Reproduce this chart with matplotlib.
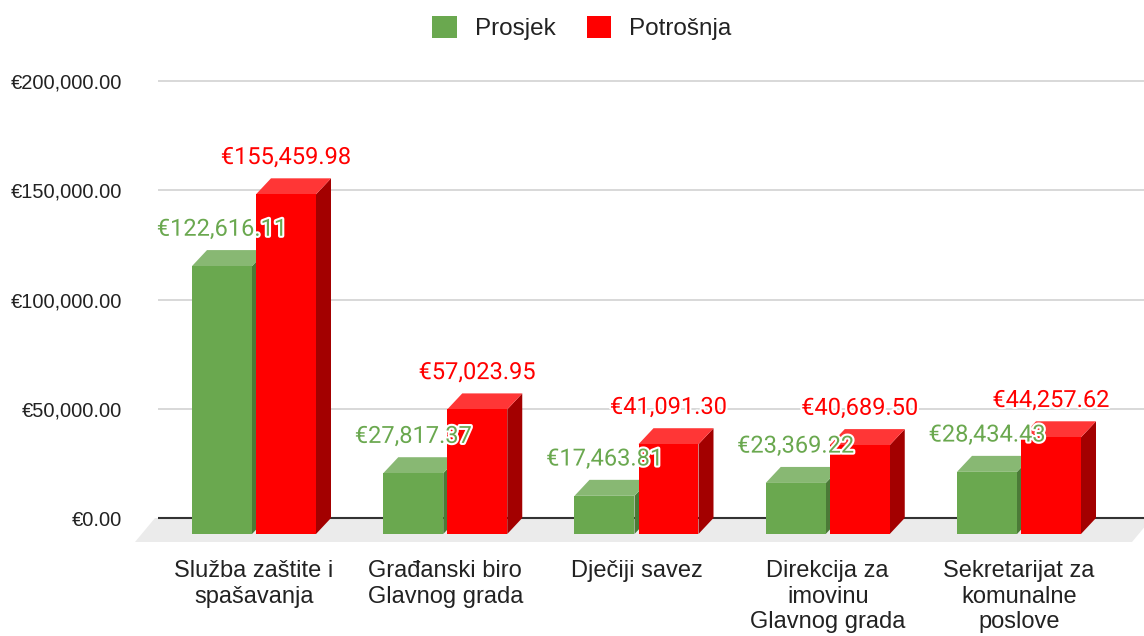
import matplotlib
matplotlib.use("Agg")
import matplotlib.pyplot as plt
from matplotlib.patches import Polygon, Patch
import matplotlib.patheffects as pe

categories = ["Služba zaštite i\nspašavanja", "Građanski biro\nGlavnog grada",
              "Dječiji savez", "Direkcija za\nimovinu\nGlavnog grada",
              "Sekretarijat za\nkomunalne\nposlove"]
prosjek = [122616.11, 27817.37, 17463.81, 23369.22, 28434.43]
potrosnja = [155459.98, 57023.95, 41091.30, 40689.50, 44257.62]
series_names = ["Prosjek", "Potrošnja"]
y_ticks = [0, 50000, 100000, 150000, 200000]

# colours: front, top, side
green = ("#6aa84f", "#88b873", "#4b7a37")
red = ("#ff0000", "#ff3636", "#a30000")

W, H = 1144, 636
fig = plt.figure(figsize=(W / 100, H / 100), dpi=100)

# pixel layout of the plot area
px_left, px_right = 158, 1144
px_top, px_bottom = 60, 545
px_zero, px_max = 518, 81
px_per_cat = 191.25
px_first = 254

yscale = (px_zero - px_max) / 200000.0  # px per unit
ax = fig.add_axes([px_left / W, (H - px_bottom) / H,
                   (px_right - px_left) / W, (px_bottom - px_top) / H])
ax.set_ylim(-(px_bottom - px_zero) / yscale, 200000 + (px_max - px_top) / yscale)
ax.set_xlim((px_left - px_first) / px_per_cat, (px_right - px_first) / px_per_cat)

ddx = 15 / px_per_cat
ddy = 16 / yscale
width = 60 / px_per_cat
offset = 32 / px_per_cat

for s in ax.spines.values():
    s.set_visible(False)

# gridlines
for t in y_ticks[1:]:
    ax.axhline(t, color="#d6d6d6", lw=1.3, zorder=0)

# floor
fdx, fdy = 20 / px_per_cat, 24 / yscale
fl, fr = (155 - px_first) / px_per_cat, (1152 - px_first) / px_per_cat
ax.add_patch(Polygon([(fl, 0), (fr, 0), (fr - fdx, -fdy), (fl - fdx, -fdy)],
                     closed=True, facecolor="#ebebeb", edgecolor="none", zorder=1,
                     clip_on=False))
ax.axhline(0, color="#333333", lw=1.5, zorder=1.5)


def bar3d(xc, v, cols):
    x0 = xc - width / 2
    x1 = x0 + width
    ax.add_patch(Polygon([(x1, -ddy), (x1 + ddx, 0), (x1 + ddx, v), (x1, v - ddy)],
                         closed=True, facecolor=cols[2], edgecolor="none", zorder=2))
    ax.add_patch(Polygon([(x0, v - ddy), (x1, v - ddy), (x1 + ddx, v), (x0 + ddx, v)],
                         closed=True, facecolor=cols[1], edgecolor="none", zorder=2))
    ax.add_patch(Polygon([(x0, -ddy), (x1, -ddy), (x1, v - ddy), (x0, v - ddy)],
                         closed=True, facecolor=cols[0], edgecolor="none", zorder=2))


halo = [pe.withStroke(linewidth=3, foreground="white")]
for i in range(len(categories)):
    bar3d(i - offset, prosjek[i], green)
    bar3d(i + offset, potrosnja[i], red)

for i in range(len(categories)):
    for xc, v, c in [(i - offset, prosjek[i], green[0]), (i + offset, potrosnja[i], red[0])]:
        ax.annotate("€{:,.2f}".format(v), xy=(xc, v), xytext=(0, 15),
                    textcoords="offset points", ha="center", va="center",
                    fontsize=17, family="Roboto", color=c, path_effects=halo,
                    zorder=5, annotation_clip=False)

ax.set_yticks(y_ticks)
ax.set_yticklabels(["€{:,.2f}".format(t) for t in y_ticks], family="Liberation Sans",
                   fontsize=14.5, color="#222222")
ax.tick_params(axis="y", length=0, pad=26)
ax.set_xticks(range(len(categories)))
ax.set_xticklabels(categories, family="Liberation Sans", fontsize=17, color="#222222",
                   linespacing=1.2)
ax.tick_params(axis="x", length=0, pad=11)

handles = [Patch(facecolor=green[0]), Patch(facecolor=red[0])]
fig.legend(handles, series_names, loc="center", bbox_to_anchor=(582 / W, 1 - 28 / H),
           ncol=2, frameon=False, prop={"family": "Liberation Sans", "size": 17.5},
           handlelength=1.0, handleheight=1.0, handletextpad=0.74, columnspacing=1.3,
           labelcolor="#222222")

fig.savefig("out.png", dpi=100)
